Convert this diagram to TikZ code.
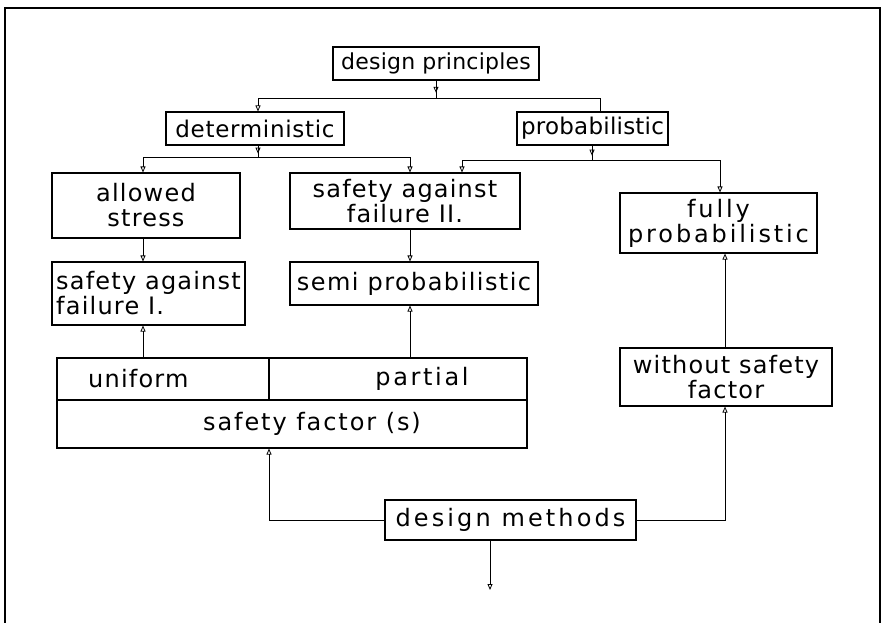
\documentclass[tikz,border=0pt]{standalone}
\usepackage{fontspec}
\setmainfont{DejaVu Sans}[LetterSpace=5]
\usetikzlibrary{arrows.meta,decorations.markings}
\newcommand{\ls}[1]{\addfontfeature{LetterSpace=#1}}
\begin{document}
\begin{tikzpicture}[x=1pt,y=-1pt,
  box/.style={draw,line width=1.1pt,rectangle,inner sep=2pt,font=\fontsize{24}{25}\selectfont},
  txt/.style={inner sep=0pt,font=\fontsize{24}{25}\selectfont},
  conn/.style={line width=0.8pt},
  arr/.style={conn,-{Triangle[open,length=6pt,width=5pt]}},
  midarr/.style={conn,postaction={decorate},decoration={markings,mark=at position 0.7 with {\arrow{Triangle[open,length=6pt,width=5pt]}}}},
  frame/.style={line width=1.1pt}]
\useasboundingbox (0,0) rectangle (886,623);
\draw[frame] (5,623) -- (5,8) -- (880,8) -- (880,623);
% column and row coordinates
\coordinate (xa) at (143,0);
\coordinate (xb) at (258,0);
\coordinate (xc) at (269,0);
\coordinate (xd) at (410,0);
\coordinate (xe) at (436,0);
\coordinate (xf) at (462,0);
\coordinate (xg) at (490,0);
\coordinate (xh) at (592,0);
\coordinate (xi) at (600,0);
\coordinate (xj) at (720,0);
\coordinate (xk) at (725,0);
\coordinate (y1) at (0,98);
\coordinate (y2) at (0,157);
\coordinate (y3) at (0,160);
\coordinate (y4) at (0,520);
\coordinate (y5) at (0,590);
% boxes
\node[box,minimum width=206,minimum height=33,font=\fontsize{22}{25}\selectfont] (dp) at (436,63.5) {\ls{1}design principles};
\node[box,minimum width=178,minimum height=33,font=\fontsize{23}{25}\selectfont] (det) at (255,128.5) {\ls{3}deterministic};
\node[box,minimum width=151,minimum height=33,font=\fontsize{23}{25}\selectfont] (prob) at (592.5,128.5) {\ls{1}probabilistic};
\node[box,minimum width=188,minimum height=65,align=center] (as) at (146,205.5) {allowed\\stress};
\node[box,minimum width=230,minimum height=56,align=center] (sf2) at (405,201) {safety against\\failure II.};
\node[box,minimum width=197,minimum height=60,align=center] (fp) at (718.5,223) {\ls{12}fully\\\ls{12}probabilistic};
\node[box,minimum width=193,minimum height=63,align=left] (sf1) at (148.5,293.5) {safety against\\failure I.};
\node[box,minimum width=248,minimum height=43] (semi) at (414,283.5) {\ls{6}semi probabilistic};
\node[box,minimum width=212,minimum height=42] (uni) at (163,379) {};
\node[box,minimum width=258,minimum height=42] (par) at (398,379) {};
\node[box,minimum width=470,minimum height=48] (sfc) at (292,424) {};
\node[txt,anchor=west] (tuni) at (88,379) {uniform};
\node[txt] (tpar) at (422,379) {\ls{11}partial};
\node[txt] (tsfc) at (312,424) {\ls{8}safety factor (s)};
\node[box,minimum width=212,minimum height=58,align=center] (wsf) at (726,377) {without safety\\factor};
\node[box,minimum width=251,minimum height=40] (dm) at (510.5,520) {\ls{13}design methods};
% connectors
\draw[midarr] (dp.south -| xe) -- (xe |- y1);
\draw[arr] (prob.north -| xi) -- (xi |- y1) -- (xb |- y1) -- (det.north -| xb);
\draw[midarr] (det.south -| xb) -- (xb |- y2);
\draw[arr] (xd |- y2) -- (xa |- y2) -- (as.north -| xa);
\draw[arr] (xa |- y2) -- (xd |- y2) -- (sf2.north -| xd);
\draw[midarr] (prob.south -| xh) -- (xh |- y3);
\draw[arr] (xj |- y3) -- (xf |- y3) -- (sf2.north -| xf);
\draw[arr] (xf |- y3) -- (xj |- y3) -- (fp.north -| xj);
\draw[arr] (as.south -| xa) -- (sf1.north -| xa);
\draw[arr] (sf2.south -| xd) -- (semi.north -| xd);
\draw[arr] (uni.north -| xa) -- (sf1.south -| xa);
\draw[arr] (par.north -| xd) -- (semi.south -| xd);
\draw[arr] (dm.west |- y4) -- (xc |- y4) -- (sfc.south -| xc);
\draw[arr] (dm.east |- y4) -- (xk |- y4) -- (wsf.south -| xk);
\draw[arr] (wsf.north -| xk) -- (fp.south -| xk);
\draw[arr] (dm.south -| xg) -- (xg |- y5);
\end{tikzpicture}
\end{document}
